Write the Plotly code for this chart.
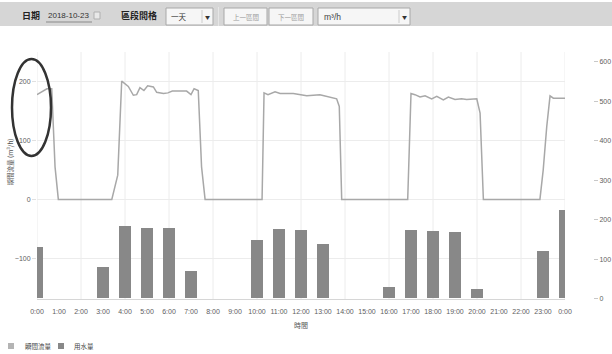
import plotly.graph_objects as go

# ---------------- data ----------------
hour_ticks = list(range(0, 25))
hour_labels = [f"{h}:00" for h in range(24)] + ["0:00"]

# 瞬間流量 (m³/h) – instantaneous flow, left axis
flow_hours = [0.0, 0.45, 0.67, 0.82, 0.97, 3.40, 3.67, 3.85, 4.15, 4.38, 4.53, 4.68, 4.86, 5.03,
              5.29, 5.44, 5.75, 5.95, 6.15, 6.80, 7.00, 7.14, 7.33, 7.48, 7.64,
              10.23, 10.32, 10.50, 10.82, 11.05, 11.65, 12.26, 12.86, 13.32, 13.62, 13.74, 13.85,
              16.85, 17.00, 17.18, 17.41, 17.64, 17.94, 18.17, 18.47, 18.70, 19.00, 19.30, 19.53,
              19.99, 20.14, 20.29, 22.86, 23.01, 23.17, 23.32, 23.47, 24.0]
flow_values = [177, 187, 187, 55, 0, 0, 41, 200, 191, 176, 177, 189, 184, 192,
               190, 181, 179, 180, 183, 183, 177, 187, 184, 55, 0,
               0, 180, 177, 182, 179, 179, 175, 177, 173, 170, 157, 0,
               0, 179, 177, 173, 175, 170, 174, 168, 173, 169, 170, 169,
               170, 146, 0, 0, 50, 123, 175, 171, 171]

# 用水量 – hourly water usage, right axis
usage_hours = list(range(0, 25))
usage_values = [131, 0, 0, 79, 184, 180, 180, 70, 0, 0, 148, 177, 174, 137, 0, 0,
                30, 173, 170, 168, 25, 0, 0, 120, 224]

series_names = ["瞬間流量", "用水量"]
left_ticks = [-100, 0, 100, 200]
right_ticks = [0, 100, 200, 300, 400, 500, 600]
grid_hours = list(range(0, 25, 2))

# ---------------- layout geometry ----------------
W, H = 612, 354
L, R, T, B = 37, 0, 52, 55
PW, PH = W - L - R, H - T - B


def px(x):
    return (x - L) / PW


def py(y):
    return (H - B - y) / PH


TICKFONT = dict(family="Liberation Sans Narrow, Liberation Sans, Arial, sans-serif", size=7, color="#5e5e5e")
CJK = "Noto Sans CJK TC, Noto Sans CJK SC, sans-serif"
GRID = "#ececec"
LINE_C = "#a8a8a8"
BAR_C = "#888888"

fig = go.Figure()
fig.add_trace(go.Bar(x=usage_hours, y=usage_values, yaxis="y2", name=series_names[1],
                     width=0.57, marker=dict(color=BAR_C, line=dict(width=0)),
                     showlegend=False))
fig.add_trace(go.Scatter(x=flow_hours, y=flow_values, mode="lines", name=series_names[0],
                         line=dict(color=LINE_C, width=1.5), showlegend=False))

shapes = []
# vertical grid lines every two hours
for g in grid_hours:
    shapes.append(dict(type="line", xref="x", yref="paper", x0=g, x1=g, y0=0, y1=1,
                       line=dict(color=GRID, width=1), layer="below"))

# header bar
shapes.append(dict(type="rect", xref="paper", yref="paper", x0=px(0), x1=px(612), y0=py(2), y1=py(26),
                   fillcolor="#d6d6d6", line=dict(width=0), layer="below"))
# date underline
shapes.append(dict(type="line", xref="paper", yref="paper", x0=px(46), x1=px(92), y0=py(22), y1=py(22),
                   line=dict(color="#8a8a8a", width=1)))
# calendar icon
shapes.append(dict(type="rect", xref="paper", yref="paper", x0=px(94), x1=px(100), y0=py(12), y1=py(19),
                   fillcolor="#e8e8e8", line=dict(color="#b0b0b0", width=1)))
# dropdown / buttons
boxes = [(166, 213), (224, 267), (269, 313), (318, 410)]
for x0, x1 in boxes:
    shapes.append(dict(type="rect", xref="paper", yref="paper", x0=px(x0), x1=px(x1), y0=py(8), y1=py(25),
                       fillcolor="#f6f6f6", line=dict(color="#a8a8a8", width=1)))
for sx in (202, 399):
    shapes.append(dict(type="line", xref="paper", yref="paper", x0=px(sx), x1=px(sx), y0=py(10), y1=py(23),
                       line=dict(color="#cccccc", width=1)))
shapes.append(dict(type="line", xref="paper", yref="paper", x0=px(218.5), x1=px(218.5), y0=py(7), y1=py(26),
                   line=dict(color="#e6e6e6", width=1)))
# hand-drawn ellipse around the left axis labels
shapes.append(dict(type="circle", xref="paper", yref="paper", x0=px(12), x1=px(51), y0=py(59), y1=py(156),
                   line=dict(color="#333333", width=2.5)))
# legend squares
shapes.append(dict(type="rect", xref="paper", yref="paper", x0=px(8), x1=px(14), y0=py(343), y1=py(349),
                   fillcolor="#b4b4b4", line=dict(width=0)))
shapes.append(dict(type="rect", xref="paper", yref="paper", x0=px(58), x1=px(64), y0=py(343), y1=py(349),
                   fillcolor=BAR_C, line=dict(width=0)))

annotations = []


def txt(text, x, y, size=9, color="#333333", family=CJK, anchor="left", bold=False, angle=0):
    if bold:
        text = f"<b>{text}</b>"
    annotations.append(dict(text=text, xref="paper", yref="paper", x=px(x), y=py(y), xanchor=anchor,
                            yanchor="middle", showarrow=False, textangle=angle,
                            font=dict(family=family, size=size, color=color)))


txt("日期", 20, 15, size=9, bold=True, color="#222222")
txt("2018-10-23", 46, 15, size=8, family="Liberation Sans, Arial, sans-serif", color="#333333")
txt("區段間格", 119, 15, size=9, bold=True, color="#222222")
txt("一天", 169, 16.5, size=7.5, color="#333333")
txt("▼", 207.5, 16.5, size=5, color="#333333", anchor="center")
txt("上一區間", 245.5, 16.5, size=6.5, color="#9a9a9a", anchor="center")
txt("下一區間", 291, 16.5, size=6.5, color="#9a9a9a", anchor="center")
txt("m³/h", 322, 16.5, size=8.5, family="Liberation Sans, Arial, sans-serif", color="#444444")
txt("▼", 404.5, 16.5, size=5, color="#333333", anchor="center")

txt("瞬間流量 (m³/h)", 9.5, 162, size=6.5, color="#555555", anchor="center", angle=-90)
txt("時間", 301, 325, size=7, color="#555555", anchor="center")
txt(series_names[0], 23, 346, size=6.5, color="#444444")
txt(series_names[1], 72, 346, size=6.5, color="#444444")

fig.update_layout(
    template="none",
    width=W, height=H,
    margin=dict(l=L, r=R, t=T, b=B, pad=0),
    paper_bgcolor="white", plot_bgcolor="white",
    bargap=0,
    xaxis=dict(domain=[0, px(565)], range=[0, 24], tickmode="array", tickvals=hour_ticks,
               ticktext=hour_labels, tickfont=TICKFONT, showgrid=False, zeroline=False,
               showline=True, linecolor="#d6d6d6", linewidth=1, ticks="", ticklabelstandoff=6,
               automargin=False, fixedrange=True),
    yaxis=dict(range=[-168.3, 249.1], tickmode="array", tickvals=left_ticks, tickfont=TICKFONT,
               showgrid=True, gridcolor=GRID, gridwidth=1, zeroline=False, showline=False,
               ticks="outside", ticklen=4, tickcolor="#e0e0e0", automargin=False),
    yaxis2=dict(range=[-1.3, 625], overlaying="y", side="right", anchor="free", position=px(593),
                tickmode="array", tickvals=right_ticks, tickfont=TICKFONT, showgrid=False,
                zeroline=False, showline=False, ticks="outside", ticklen=4, tickcolor="#c8c8c8",
                automargin=False),
    shapes=shapes,
    annotations=annotations,
    showlegend=False,
)

fig.write_html("out.html", config={"displayModeBar": False},
               post_script="document.body.style.margin='0px';document.body.style.padding='0px';")
